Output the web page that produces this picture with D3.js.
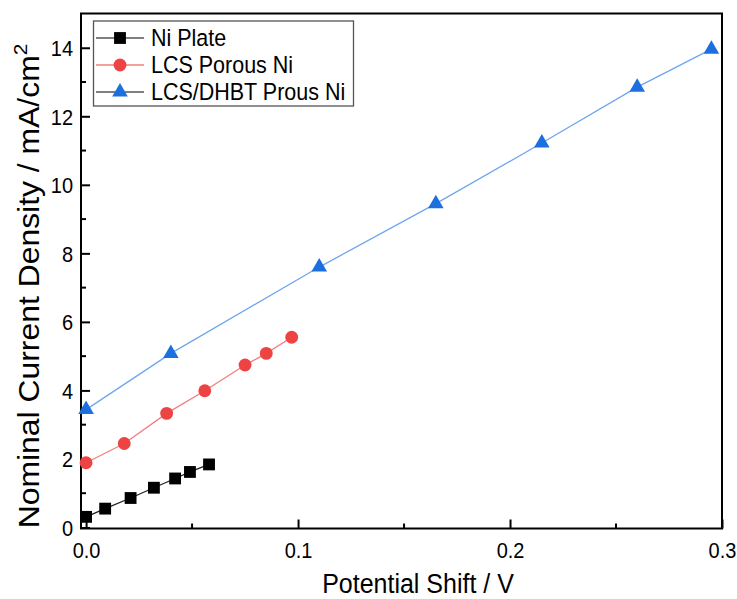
<!DOCTYPE html>
<html>
<head>
<meta charset="utf-8">
<script src="https://cdn.jsdelivr.net/npm/d3@7/dist/d3.min.js"></script>
<style>
  html, body { margin: 0; padding: 0; background: #fff; }
  svg { display: block; font-family: "Liberation Sans", Arial, sans-serif; }
</style>
</head>
<body>
<svg id="chart" width="737" height="599"></svg>
<script>
// Potential shift (V) vs nominal current density (mA/cm²) for three electrodes
const niPlateX = [0.000, 0.009, 0.021, 0.032, 0.042, 0.049, 0.058];
const niPlateY = [0.31, 0.55, 0.86, 1.16, 1.43, 1.62, 1.84];

const lcsX = [0.000, 0.018, 0.038, 0.056, 0.075, 0.085, 0.097];
const lcsY = [1.89, 2.45, 3.33, 3.99, 4.74, 5.08, 5.55];

const dhbtX = [0.000, 0.040, 0.110, 0.165, 0.215, 0.260, 0.295];
const dhbtY = [3.44, 5.08, 7.60, 9.45, 11.22, 12.85, 13.96];

const seriesNames = ["Ni Plate", "LCS Porous Ni", "LCS/DHBT Prous Ni"];
const xTicks = [0.0, 0.1, 0.2, 0.3];
const xTickLabels = ["0.0", "0.1", "0.2", "0.3"];
const yTicks = [0, 2, 4, 6, 8, 10, 12, 14];

const svg = d3.select("#chart");
const plotLeft = 81, plotRight = 722, plotTop = 13.5, plotBottom = 528.5;
const stretch = 1.08; // text glyphs drawn slightly taller than wide

const x = d3.scaleLinear().domain([-0.0024, 0.3]).range([plotLeft, plotRight]);
const y = d3.scaleLinear().domain([-0.03, 15]).range([plotBottom, plotTop]);

// Plot frame
svg.append("rect")
  .attr("x", plotLeft).attr("y", plotTop)
  .attr("width", plotRight - plotLeft).attr("height", plotBottom - plotTop)
  .attr("fill", "none").attr("stroke", "#000").attr("stroke-width", 2);

// Axes with inward ticks
const xMinor = d3.range(0.05, 0.3, 0.1);
const yMinor = d3.range(1, 15, 2);

const xAxisG = svg.append("g").attr("transform", `translate(0,${plotBottom})`);
xAxisG.call(d3.axisBottom(x).tickValues(xTicks).tickSize(-9).tickPadding(0)
  .tickFormat((d, i) => xTickLabels[i]));
xAxisG.select(".domain").remove();
xAxisG.selectAll(".tick line").attr("stroke", "#000").attr("stroke-width", 2);
xAxisG.selectAll(".tick text").attr("font-size", 20).attr("fill", "#000")
  .attr("dy", 0).attr("y", 0)
  .attr("transform", `translate(0,29) scale(1,${stretch})`);
xAxisG.selectAll(".minor").data(xMinor).enter().append("line")
  .attr("x1", d => x(d)).attr("x2", d => x(d)).attr("y1", 0).attr("y2", -5)
  .attr("stroke", "#000").attr("stroke-width", 2);

const yAxisG = svg.append("g").attr("transform", `translate(${plotLeft},0)`);
yAxisG.call(d3.axisLeft(y).tickValues(yTicks).tickSize(-9).tickPadding(8));
yAxisG.select(".domain").remove();
yAxisG.selectAll(".tick line").attr("stroke", "#000").attr("stroke-width", 2);
yAxisG.selectAll(".tick text").attr("font-size", 20).attr("fill", "#000")
  .attr("x", 0).attr("dy", "0.36em")
  .attr("transform", `translate(-8,0) scale(1,${stretch})`);
yAxisG.selectAll(".minor").data(yMinor).enter().append("line")
  .attr("y1", d => y(d)).attr("y2", d => y(d)).attr("x1", 0).attr("x2", 5)
  .attr("stroke", "#000").attr("stroke-width", 2);

// Axis titles
svg.append("text")
  .attr("transform", `translate(418,593) scale(1,${stretch})`)
  .attr("text-anchor", "middle").attr("font-size", 25).attr("fill", "#000")
  .text("Potential Shift / V");

const yTitle = svg.append("text")
  .attr("transform", `translate(39,${(plotTop + plotBottom) / 2 + 15}) rotate(-90) scale(1.1,1)`)
  .attr("text-anchor", "middle").attr("font-size", 29).attr("fill", "#000");
yTitle.append("tspan").text("Nominal Current Density / mA/cm");
yTitle.append("tspan").attr("font-size", 19).attr("dy", -12).text("2");

// Series
const series = [
  { name: seriesNames[0], xs: niPlateX, ys: niPlateY, marker: "square", fill: "#000000", line: "#222222", legendLine: "#555555" },
  { name: seriesNames[1], xs: lcsX, ys: lcsY, marker: "circle", fill: "#EE4343", line: "#F27E7E", legendLine: "#F27E7E" },
  { name: seriesNames[2], xs: dhbtX, ys: dhbtY, marker: "triangle", fill: "#1B6FDE", line: "#6FA6EE", legendLine: "#555555" }
];

const symbolFor = {
  square: d3.symbol().type(d3.symbolSquare).size(140),
  circle: d3.symbol().type(d3.symbolCircle).size(130),
  triangle: d3.symbol().type(d3.symbolTriangle).size(105)
};

const lineGen = d3.line().x(d => x(d[0])).y(d => y(d[1]));

series.forEach(s => {
  const pts = s.xs.map((v, i) => [v, s.ys[i]]);
  svg.append("path").datum(pts)
    .attr("d", lineGen).attr("fill", "none")
    .attr("stroke", s.line).attr("stroke-width", 1.3);
  svg.append("g").selectAll("path").data(pts).enter().append("path")
    .attr("d", symbolFor[s.marker])
    .attr("transform", d => `translate(${x(d[0])},${y(d[1])})`)
    .attr("fill", s.fill);
});

// Legend
const legend = svg.append("g");
legend.append("rect")
  .attr("x", 93.5).attr("y", 21).attr("width", 260).attr("height", 85)
  .attr("fill", "#fff").attr("stroke", "#555").attr("stroke-width", 1.3);
series.forEach((s, i) => {
  const cy = 38 + i * 27;
  legend.append("line")
    .attr("x1", 96).attr("x2", 144).attr("y1", cy).attr("y2", cy)
    .attr("stroke", s.legendLine).attr("stroke-width", 1.3);
  legend.append("path")
    .attr("d", symbolFor[s.marker])
    .attr("transform", `translate(120,${cy})`)
    .attr("fill", s.fill);
  legend.append("text")
    .attr("transform", `translate(151,${cy}) scale(1,${stretch})`)
    .attr("dy", "0.36em")
    .attr("font-size", 21.5).attr("fill", "#000")
    .text(s.name);
});
</script>
</body>
</html>
